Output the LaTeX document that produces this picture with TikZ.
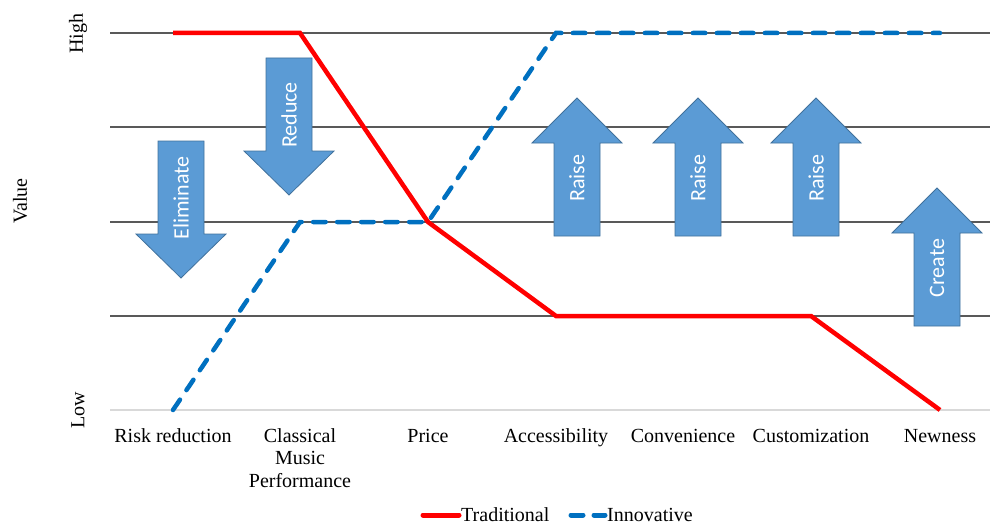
\documentclass[tikz,border=0pt]{standalone}
\usepackage{fontspec}
\setmainfont{Liberation Serif}
\newfontfamily\arrowfont{Carlito}
\definecolor{gridc}{HTML}{595959}
\definecolor{axisc}{HTML}{D9D9D9}
\definecolor{tradc}{HTML}{FF0000}
\definecolor{innoc}{HTML}{0070C0}
\definecolor{arrfill}{HTML}{5B9BD5}
\definecolor{arrline}{HTML}{41719C}
\begin{document}
\begin{tikzpicture}[x=1pt,y=-1pt,
  gridline/.style={draw=gridc,line width=1.2pt},
  axisline/.style={draw=axisc,line width=1.2pt},
  trad/.style={draw=tradc,line width=4.5pt,line join=miter},
  inno/.style={draw=innoc,line width=4.5pt,line cap=round,dash pattern=on 12.5pt off 11.5pt},
  bigarrow/.style={fill=arrfill,draw=arrline,line width=0.8pt},
  arrowtext/.style={rotate=90,text=white,font=\arrowfont\fontsize{22}{26}\selectfont,inner sep=0pt},
  catlabel/.style={font=\fontsize{20}{22.5}\selectfont,align=center,anchor=base,inner sep=0pt},
  axlabel/.style={font=\fontsize{20}{23}\selectfont,rotate=90,inner sep=0pt},
  legtext/.style={font=\fontsize{20}{23}\selectfont,anchor=base west,inner sep=0pt}
]
\useasboundingbox (0,0) rectangle (992,524);
% grid
\foreach \yy/\nm in {33/g1,127/g2,222/g3,316/g4}{
  \coordinate (\nm L) at (110,\yy);
  \coordinate (\nm R) at (990,\yy);
  \draw[gridline] (\nm L) -- (\nm R);
}
\coordinate (axL) at (110,410);
\coordinate (axR) at (990,410);
\draw[axisline] (axL) -- (axR);
% axis labels
\node[axlabel] (high) at (78,34) {High};
\node[axlabel] (low) at (78,410) {Low};
\node[axlabel] (value) at (20,201) {Value};
% category labels
\node[catlabel] (c1) at (173,442) {Risk reduction};
\node[catlabel] (c2) at (300,487) {Classical\\Music\\Performance};
\node[catlabel] (c3) at (428,442) {Price};
\node[catlabel] (c4) at (556,442) {Accessibility};
\node[catlabel] (c5) at (683,442) {Convenience};
\node[catlabel] (c6) at (811,442) {Customization};
\node[catlabel] (c7) at (940,442) {Newness};
% arrows (down)
\foreach \cx/\top/\lab/\ty/\nm in {181/141/Eliminate/198/ae,289/58/Reduce/115/ar}{
  \draw[bigarrow] (\cx-23,\top) -- (\cx+23,\top) -- (\cx+23,\top+93) -- (\cx+45,\top+93)
     -- (\cx,\top+137) -- (\cx-45,\top+93) -- (\cx-23,\top+93) -- cycle;
  \node[arrowtext] (\nm) at (\cx,\ty) {\lab};
}
% arrows (up)
\foreach \cx/\tip/\lab/\ty/\nm in {577/98/Raise/178/ra1,698/98/Raise/178/ra2,816/98/Raise/178/ra3,937/188/Create/268/ac}{
  \draw[bigarrow] (\cx,\tip) -- (\cx+45,\tip+45) -- (\cx+23,\tip+45) -- (\cx+23,\tip+138)
     -- (\cx-23,\tip+138) -- (\cx-23,\tip+45) -- (\cx-45,\tip+45) -- cycle;
  \node[arrowtext] (\nm) at (\cx,\ty) {\lab};
}
% data points
\coordinate (t1) at (173,33);
\coordinate (t2) at (300,33);
\coordinate (t3) at (428,222);
\coordinate (t4) at (556,316);
\coordinate (t6) at (811,316);
\coordinate (t7) at (940,410);
\coordinate (i1) at (173,410);
\coordinate (i2) at (300,222);
\coordinate (i3) at (428,222);
\coordinate (i4) at (556,33);
\coordinate (i7) at (940,33);
\draw[trad] (t1) -- (t2) -- (t3) -- (t4) -- (t6) -- (t7);
\draw[inno] (i1) -- (i2) -- (i3) -- (i4) -- (i7);
% legend
\coordinate (lt1) at (423,515);
\coordinate (lt2) at (459,515);
\coordinate (li1) at (571,515);
\coordinate (li2) at (605,515);
\draw[draw=tradc,line width=5pt,line cap=round] (lt1) -- (lt2);
\node[legtext] (ltt) at (461,521) {Traditional};
\draw[draw=innoc,line width=5pt,line cap=round,dash pattern=on 12pt off 11pt] (li1) -- (li2);
\node[legtext] (lit) at (607,521) {Innovative};
\end{tikzpicture}
\end{document}
